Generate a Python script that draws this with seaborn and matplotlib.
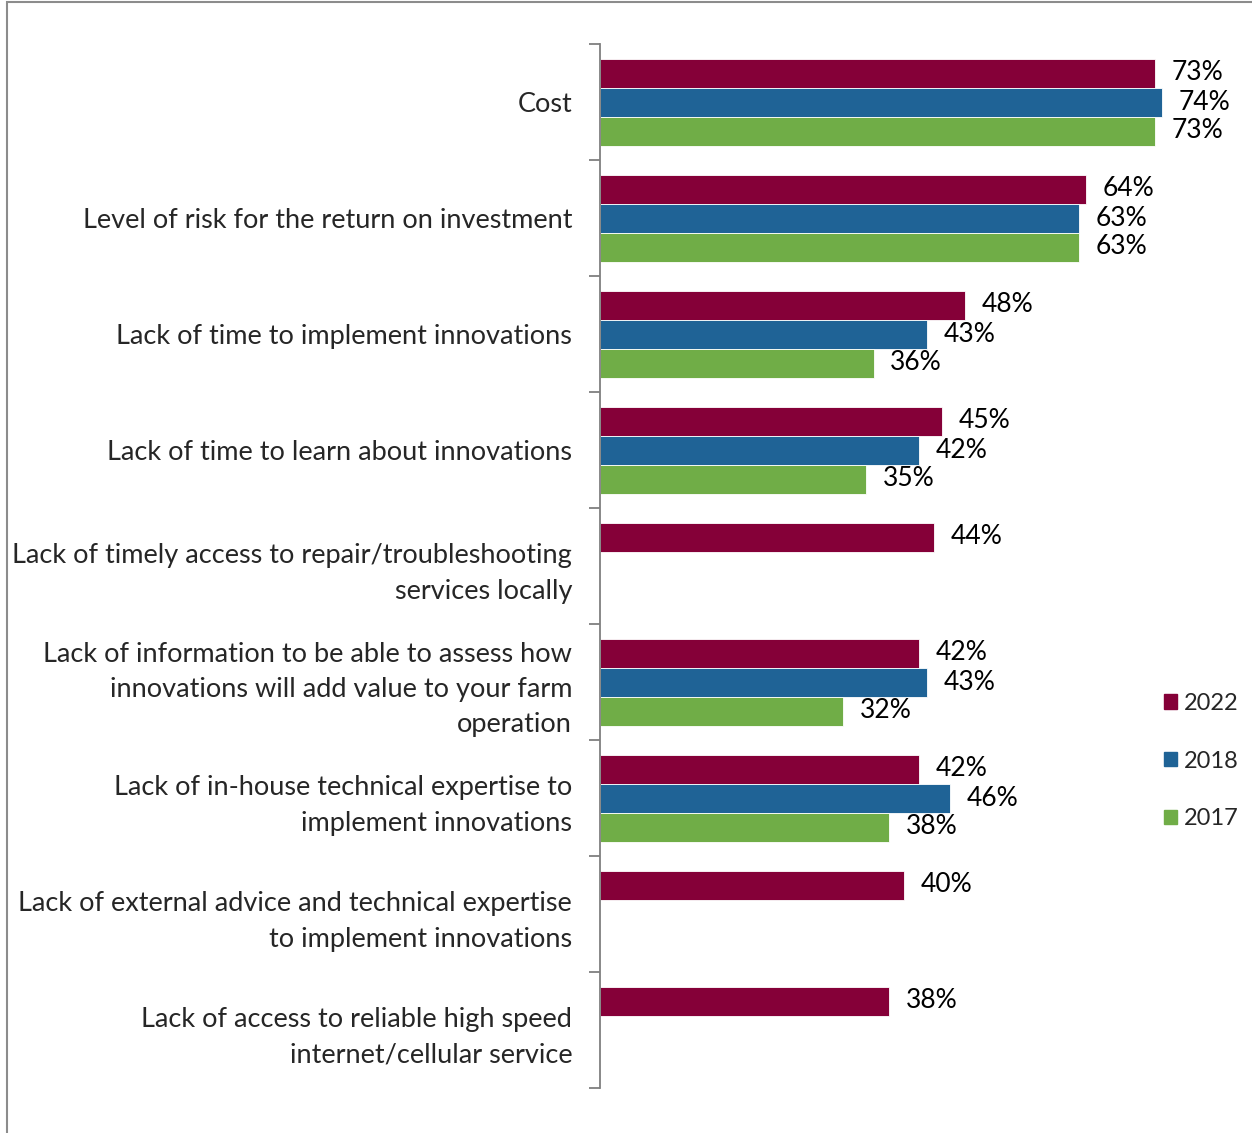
import numpy as np
import pandas as pd
import matplotlib.pyplot as plt
import matplotlib.patches as mpatches
import seaborn as sns

categories = [
    'Cost',
    'Level of risk for the return on investment',
    'Lack of time to implement innovations',
    'Lack of time to learn about innovations',
    'Lack of timely access to repair/troubleshooting\nservices locally',
    'Lack of information to be able to assess how\ninnovations will add value to your farm\noperation',
    'Lack of in-house technical expertise to\nimplement innovations',
    'Lack of external advice and technical expertise\nto implement innovations',
    'Lack of access to reliable high speed\ninternet/cellular service',
]
years = ['2022', '2018', '2017']
v2022 = [73, 64, 48, 45, 44, 42, 42, 40, 38]
v2018 = [74, 63, 43, 42, np.nan, 43, 46, np.nan, np.nan]
v2017 = [73, 63, 36, 35, np.nan, 32, 38, np.nan, np.nan]
colors = ['#850038', '#1F6396', '#70AD47']

df = pd.DataFrame({
    'category': categories * 3,
    'year': [y for y in years for _ in categories],
    'value': v2022 + v2018 + v2017,
})

sns.set_style('white')
plt.rcParams['font.family'] = ['Lato', 'DejaVu Sans']

fig = plt.figure(figsize=(12.52, 11.33), dpi=100)
ax = fig.add_axes([600 / 1252, 1 - 1088 / 1133, 1 - 600 / 1252, (1088 - 44) / 1133])

sns.barplot(data=df, y='category', x='value', hue='year', hue_order=years,
            palette=colors, orient='h', width=0.75, gap=0, saturation=1,
            order=categories, edgecolor='white', linewidth=0.6, ax=ax)

for cont in ax.containers:
    labels = ['' if np.isnan(b.get_width()) else f'{b.get_width():.0f}%' for b in cont]
    ax.bar_label(cont, labels=labels, padding=12, fontsize=19, color='black')

ax.set_xlim(0, 652 / 7.6)
ax.set_ylim(len(categories) - 0.5, -0.5)
ax.set_xlabel('')
ax.set_ylabel('')
ax.set_xticks([])
for s in ['top', 'right', 'bottom']:
    ax.spines[s].set_visible(False)
ax.spines['left'].set_color('#7f7f7f')
ax.spines['left'].set_linewidth(1.3)

ax.set_yticks(range(len(categories)))
ax.set_yticklabels(categories, fontsize=19.5, linespacing=1.5)
ax.tick_params(axis='y', which='major', left=False, length=0, pad=20)
ax.set_yticks(np.arange(-0.5, len(categories)), minor=True)
ax.tick_params(axis='y', which='minor', left=True, length=8, width=1.3,
               color='#7f7f7f', direction='out')

handles = [mpatches.Patch(color=c) for c in colors]
ax.legend(handles, years, loc='center left', bbox_to_anchor=(1143 / 1252, 1 - 761 / 1133),
          bbox_transform=fig.transFigure, frameon=False, fontsize=17,
          handlelength=0.55, handleheight=0.55, handletextpad=0.3, labelspacing=1.55)

fig.patches.append(mpatches.Rectangle((7 / 1252, -0.1), 1.2, 1.1 - 1.5 / 1133,
                                      transform=fig.transFigure, fill=False,
                                      edgecolor='#8c8c8c', linewidth=1.5))

fig.savefig('out.png', dpi=100)
